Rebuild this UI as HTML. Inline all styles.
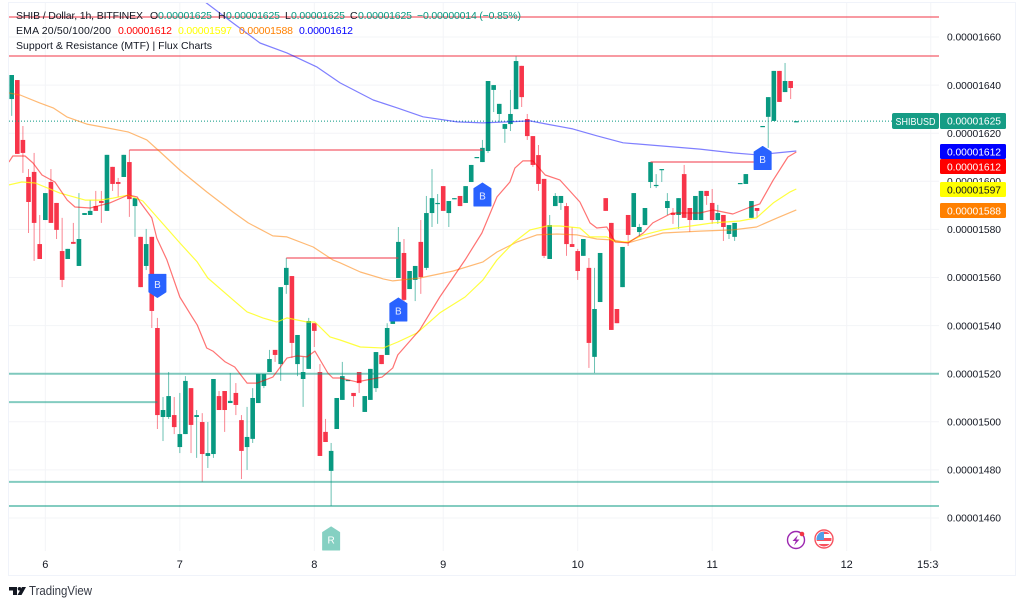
<!DOCTYPE html>
<html lang="en">
<head>
<meta charset="utf-8">
<title>SHIB / Dollar 1h chart</title>
<style>
html,body{margin:0;padding:0;background:#fff;width:1024px;height:607px;overflow:hidden}
svg{display:block}
text{font-family:"Liberation Sans",sans-serif}
</style>
</head>
<body>
<svg id="chart" width="1024" height="607" viewBox="0 0 1024 607" xmlns="http://www.w3.org/2000/svg">
  <defs>
    <clipPath id="plot-clip"><rect x="9" y="3" width="930" height="548"/></clipPath>
    <clipPath id="time-clip"><rect x="9" y="552" width="930" height="23"/></clipPath>
    <clipPath id="flag-clip"><circle cx="824" cy="539" r="7.5"/></clipPath>
  </defs>
  <rect x="0" y="0" width="1024" height="607" fill="#ffffff"/>
  <rect x="8.5" y="2.5" width="1007" height="573" fill="none" stroke="#f0f3fa"/>
  <g id="grid"></g>
  <g id="marks" clip-path="url(#plot-clip)">
    <g id="candles"></g>
    <g id="levels"></g>
    <g id="emas"></g>
    <g id="markers"></g>
  </g>
  <g id="price-axis"></g>
  <g id="time-axis" clip-path="url(#time-clip)"></g>
  <g id="tags"></g>

  <g font-size="10.5" fill="#131722">
    <text x="16" y="19" textLength="127">SHIB / Dollar, 1h, BITFINEX</text>
    <text x="150" y="19">O</text>
    <text x="158" y="19" textLength="54" fill="#089981">0.00001625</text>
    <text x="218" y="19">H</text>
    <text x="226" y="19" textLength="54" fill="#089981">0.00001625</text>
    <text x="285" y="19">L</text>
    <text x="291" y="19" textLength="54" fill="#089981">0.00001625</text>
    <text x="350" y="19">C</text>
    <text x="358" y="19" textLength="54" fill="#089981">0.00001625</text>
    <text x="417" y="19" textLength="104" fill="#089981">−0.00000014 (−0.85%)</text>
    <text x="16" y="34" textLength="95">EMA 20/50/100/200</text>
    <text x="118" y="34" textLength="54" fill="#ff0000">0.00001612</text>
    <text x="178" y="34" textLength="54" fill="#ffff00">0.00001597</text>
    <text x="239" y="34" textLength="54" fill="#ff8000">0.00001588</text>
    <text x="299" y="34" textLength="54" fill="#0000ff">0.00001612</text>
    <text x="16" y="49" textLength="196">Support &amp; Resistance (MTF) | Flux Charts</text>
  </g>

  <g>
    <circle cx="796" cy="540" r="8.5" fill="#ffffff" stroke="#9c27b0" stroke-width="1.4"/>
    <polygon points="798,535 792.5,541 795.8,541 794,545.5 799.5,539.5 796.2,539.5" fill="#9c27b0"/>
    <circle cx="802" cy="534" r="2.3" fill="#f23645"/>
  </g>
  <g>
    <circle cx="824" cy="539" r="9" fill="#ffffff" stroke="#f7525f" stroke-width="1.4"/>
    <g clip-path="url(#flag-clip)">
      <rect x="816" y="531" width="16" height="3" fill="#f7525f"/>
      <rect x="816" y="538" width="16" height="3" fill="#f7525f"/>
      <rect x="816" y="544" width="16" height="3" fill="#f7525f"/>
      <rect x="816" y="532" width="8" height="8" fill="#4f9fe8"/>
    </g>
  </g>

  <g>
    <polygon points="9,587 17,587 17,595 13,595 13,590.5 9,590.5" fill="#131722"/>
    <circle cx="19.5" cy="588.8" r="1.8" fill="#131722"/>
    <polygon points="22,587 26,587 21.5,595 17.5,595" fill="#131722"/>
    <text x="29" y="595" font-size="12.5" textLength="63" lengthAdjust="spacingAndGlyphs" fill="#363a45">TradingView</text>
  </g>
</svg>

<script>
// Candles (prices in units of 0.00000001)
const opens = [
1634.2,1642.1,1617.2,1601.8,1603.9,1573.9,1583.9,1599.7,1591,1571,
1567.7,1574.8,1564.8,1586,1586,1589.7,1591.8,1587.7,1606,1599.7,
1601.8,1608,1589.7,1576.9,1564.8,1576.9,1539,1502,1502,1502.8,
1489.5,1494.9,1514,1502,1499.9,1485.8,1486.6,1510.7,1512.8,1507.8,
1512,1500.7,1489.5,1492.9,1507.8,1514.9,1520.7,1529.9,1524,1556.9,
1560.6,1524,1517.8,1522,1541,1520.7,1495.8,1479.6,1497,1509.1,
1517,1512,1520.7,1504.1,1509.1,1514,1527.8,1527.8,1540.7,1559.8,
1570.2,1555.2,1559,1574.8,1564,1586.8,1590.6,1598,1586.8,1592.7,
1593.9,1591,1599.7,1609.7,1608,1612.6,1638,1628,1621.8,1623.8,
1630,1648,1625.9,1618.8,1610.9,1601,1567.7,1589.7,1591,1589.7,
1573.9,1571,1569,1564,1527,1549.8,1593,1582.7,1546.9,1556,
1586,1581,1578.9,1581.8,1599.7,1598,1604.7,1588.9,1586.8,1586,
1603,1588.9,1583.9,1583.9,1596,1591,1583.9,1586,1578.1,1576.9,
1598.9,1598.9,1584.8,1588.9,1622.6,1626.8,1625.1,1645.9,1637.1,1641.7,
1624.7];
const closes = [
1644.2,1611.4,1611.8,1591.4,1582.7,1567.7,1595.1,1582.7,1579.8,1559,
1571.9,1574,1576,1586.8,1587.7,1587.7,1591,1611,1598.9,1598.9,
1611,1592.6,1593,1556,1573.9,1546.1,1502.8,1504.9,1510.7,1497.8,
1494.9,1517,1498.7,1502.8,1486.6,1487,1517.8,1504.9,1504.9,1508.7,
1507,1487.9,1493.7,1509.9,1519.9,1519.9,1526.1,1527.8,1556,1564,
1532.8,1536.1,1520.7,1541.9,1537.8,1485.8,1491.6,1487.9,1509.9,1519,
1517.4,1510.7,1516.1,1510.7,1522,1529,1524,1539,1542.3,1574.8,
1550.7,1562.7,1564.8,1560.2,1586.8,1593,1591,1587.7,1591.8,1593,
1589.7,1598,1606.8,1610.1,1613.9,1641.7,1640,1632.2,1623.8,1628,
1650,1635,1618.8,1606.8,1598.9,1569,1581.8,1593.9,1593.9,1573.9,
1572.7,1562.7,1576,1532.8,1546.9,1570.2,1587.7,1538.2,1541,1572.7,
1577.7,1595.1,1581,1588.9,1608,1598.5,1605.1,1591.8,1586,1593,
1584.8,1583.9,1593.9,1596,1593.9,1583.9,1586.8,1581,1581.8,1582.7,
1599.3,1603,1591.8,1587.7,1623,1635,1645.9,1633,1641.7,1638.8,
1625];
const highs = [
1644.2,1642.1,1623,1605.1,1611.8,1586,1595.1,1605.1,1591,1584.8,
1571.9,1582.7,1595.1,1586.8,1592.2,1596,1596,1611,1606,1601.4,
1611,1613,1593,1576.9,1580.2,1576.9,1543.2,1510.3,1520.7,1510.3,
1512,1519,1514,1504.9,1503.6,1499.9,1517.8,1512.8,1512.8,1520.3,
1516.1,1502.8,1506.2,1514,1519.9,1519.9,1529.9,1529.9,1556,1568.1,
1560.6,1536.1,1527,1543.2,1541,1524,1501.2,1491.2,1509.9,1524.9,
1517.4,1512,1520.7,1510.7,1522,1529,1527.8,1541,1542.3,1581,
1576,1562.7,1564.8,1583.9,1593.9,1605.1,1594.7,1598,1591.8,1593,
1593.9,1598,1606.8,1610.1,1617.2,1641.7,1640,1632.2,1623.8,1638,
1652.1,1648,1628,1618.8,1615.1,1601,1586,1595.1,1593.9,1591,
1581,1571.9,1576,1568.1,1564,1570.2,1593,1582.7,1546.9,1572.7,
1586,1595.1,1582.3,1588.9,1608,1603,1605.1,1595.1,1588.9,1593,
1606.8,1588.9,1593.9,1596,1596,1596.8,1590.2,1586,1581.8,1582.7,
1599.3,1603,1591.8,1588.9,1623,1635,1645.9,1645.9,1649.2,1641.7,
1625];
const lows = [
1627.2,1611.4,1603.5,1578.5,1566.9,1567.7,1583.9,1582.7,1576,1556,
1567.7,1574,1564.8,1586,1586,1587.7,1582.7,1587.7,1596,1593.5,
1601.8,1585.2,1576.9,1556,1563.1,1539,1497,1492,1501.2,1494.9,
1487,1494.9,1487,1485,1475,1480.8,1485,1504.9,1495.8,1507.8,
1502.8,1476.2,1480,1491.2,1507.8,1514,1520.7,1524.9,1517,1553.2,
1526.5,1519,1506.2,1522,1531.1,1485.8,1491.6,1465,1497,1509.1,
1517,1506.2,1512,1504.1,1509.1,1512.4,1524,1527.8,1540.7,1559.8,
1548.6,1555.2,1550.2,1553.2,1563.1,1581,1582.3,1587.7,1581,1592.7,
1589.7,1591,1599.7,1609.7,1608,1611.8,1628.8,1624.7,1616,1620.9,
1630,1630.9,1617.2,1606,1596,1568.1,1567.7,1589.7,1588.1,1569,
1572.7,1559,1569,1522.4,1520.3,1549.8,1587.7,1538.2,1541,1556,
1573.1,1581,1576.9,1581.8,1597.2,1597.2,1599.7,1586,1582.3,1580.2,
1584.8,1578.9,1583.9,1583.9,1590.2,1582.3,1582.3,1575.2,1576,1575.2,
1598.9,1598.9,1584.8,1584.8,1622.6,1613.9,1625.1,1633,1637.1,1634.2,
1624.7];

// EMA series, sampled at bar numbers
const ema20Bars = [-0.5,0.2,2.4,3.8,5.4,7.7,9.9,11.3,14,17.5,20.8,22.4,22.9,25,25.9,27.7,30,32.2,33.1,34.8,35.9,38.1,39.8,42,43.8,46.6,49.1,50.9,52.7,54.1,56.4,57.3,58.6,61.6,66.1,68,68.9,72.8,76.4,80.9,83.9,86.6,88.9,89.8,91.2,93,95.2,97.8,101.4,103.2,104.4,106.2,107.7,110,112.7,114.4,117.8,120.5,122.8,125.1,128.7,131.8,133.5,135.9,138.5,140];
const ema20 = [1608,1610.5,1610.5,1607.6,1602.6,1599.7,1592.2,1589.3,1588.9,1591,1594.3,1593.5,1591.4,1584.8,1576.4,1567.3,1551.9,1543.6,1540.3,1530.7,1529.4,1524.9,1522.8,1516.1,1516.1,1518.6,1526.5,1527.4,1527,1529.4,1520.3,1518.2,1518.2,1516.6,1518.6,1522.4,1527.8,1538.2,1551.9,1567.3,1578.5,1593.5,1599.7,1605.5,1608.5,1608.5,1602.6,1600.6,1591.4,1582.7,1580.6,1581,1574.8,1574.4,1578.5,1582.7,1586.8,1586.8,1586.8,1588.1,1586.4,1589.3,1590.6,1600.6,1610.1,1612.2];
const ema50Bars = [-0.5,1.8,4.2,8.6,13.1,15.8,18.1,20.8,23.4,25.9,30,33.1,35,39.5,42,44.8,47.3,49.1,52.7,54.1,56.8,58.6,62.2,66.3,68.9,72.3,76.4,80.9,84.1,86.6,89.5,92.5,95.5,97.8,101.4,103.2,106.2,107.7,110,112.7,116.2,122.3,125.1,129.9,132.9,135.9,138.9,140];
const ema50 = [1598.5,1599.7,1599.3,1595.1,1592.2,1592.2,1593,1594.3,1591.8,1585.2,1574.4,1566.5,1559.8,1550.7,1545.7,1543.2,1541.5,1543.2,1541.5,1541.5,1535.3,1534,1531.1,1530.7,1533.2,1536.9,1545.3,1551.9,1559,1567.3,1574.4,1579.8,1581.4,1581.4,1580.6,1576.9,1576.9,1574.8,1574.8,1577.7,1579.8,1581.8,1582.7,1583.5,1584.8,1591,1595.6,1596.8];
const ema100Bars = [-0.5,1.5,5,7.4,9.9,13.4,17,20.8,24.1,26.5,30,34.8,39.5,42.2,46.6,49.1,53.8,57.3,58.6,62.2,66.3,68,72.8,78.8,84.1,86.6,90.2,93.7,97.3,100.9,104.4,107.3,110,116.2,122.8,128.7,132.9,136.6,140];
const ema100 = [1636.7,1635.9,1632.6,1630.5,1626.7,1623.8,1622.2,1620.5,1617.2,1612.2,1604.7,1595.6,1587.2,1582.7,1577.3,1576.9,1572.7,1567.3,1566.1,1562.3,1559.4,1558.6,1559.8,1562.7,1566.5,1570.6,1574.8,1577.7,1578.1,1577.7,1576,1575.6,1574.4,1578.5,1579.3,1579.8,1581,1584.8,1588.1];
const ema200Bars = [34.5,39.5,44.3,49.1,54.5,58.6,64.5,68.8,73.4,79.5,84.1,88.4,92.5,95.5,100.1,104.4,109.1,113.9,122.8,128.7,132.9,136.6,140];
const ema200 = [1674.6,1665.8,1657.5,1653.4,1647.5,1640.9,1633.8,1630.5,1626.8,1624.7,1624.3,1624.7,1625.1,1623.8,1621.8,1618.9,1616,1615.1,1613.4,1611.8,1611,1611.8,1612.6];

// Support / resistance levels
const resistancePrices = [1668.3,1652.1,1613,1568.1,1608];
const resistanceStartBars = [-2,-2,21,49,114];
const resistanceEndBars = [170,170,84,69,134];
const supportPrices = [1520,1508.2,1475,1465];
const supportStartBars = [-2,-2,-2,-2];
const supportEndBars = [170,26,170,170];

// Axis labels
const priceTicks = [1660,1640,1620,1600,1580,1560,1540,1520,1500,1480,1460];
const timeTickBars = [6,30,54,77,101,125,149,164];
const timeTickLabels = ['6','7','8','9','10','11','12','15:30'];
const lastPrice = 1625;

// Signal markers
const buyBars = [26,69,84,134];
const buyPrices = [1556.5,1546.7,1594.5,1609.7];
const buyDirections = [-1,1,1,1];
const retestBars = [57];
const retestPrices = [1451.5];

const NS = 'http://www.w3.org/2000/svg';
const xOf = bar => 11.7 + 5.604 * bar;
const yOf = price => 37 + (1660 - price) * 2.405;
const fmt = price => '0.0000' + String(Math.round(price));

function make(tag, parent, attrs) {
  const el = document.createElementNS(NS, tag);
  for (const k in attrs) el.setAttribute(k, attrs[k]);
  parent.appendChild(el);
  return el;
}

// Grid + axis labels
const grid = document.getElementById('grid');
const priceAxis = document.getElementById('price-axis');
priceTicks.forEach(p => {
  const line = make('line', grid, {x1: 9, x2: 939, y1: yOf(p), y2: yOf(p), stroke: '#f3f4f7', 'stroke-width': 1});
  
  
  const label = make('text', priceAxis, {x: 947, y: yOf(p) + 3.7, 'font-size': 10.3, fill: '#131722', textLength: 54});
  
  
  label.textContent = fmt(p);
});
const timeAxis = document.getElementById('time-axis');
timeTickBars.forEach((b, i) => {
  const line = make('line', grid, {x1: xOf(b), x2: xOf(b), y1: 3, y2: 551, stroke: '#f3f4f7', 'stroke-width': 1});
  
  
  const label = make('text', timeAxis, {x: xOf(b), y: 568, 'font-size': 11, fill: '#131722', 'text-anchor': 'middle'});
  
  
  label.textContent = timeTickLabels[i];
});

// Candles
const candleGroup = document.getElementById('candles');
opens.forEach((o, i) => {
  const c = closes[i];
  const up = c >= o;
  const color = up ? '#089981' : '#f7354a';
  const g = make('g', candleGroup, {});
  
  
  const x = xOf(i);
  make('line', g, {x1: x, x2: x, y1: yOf(highs[i]), y2: yOf(lows[i]), stroke: color, 'stroke-width': 1, 'stroke-opacity': 0.6});
  const top = yOf(Math.max(o, c));
  const bottom = yOf(Math.min(o, c));
  make('rect', g, {x: x - 2.3, y: top, width: 4.6, height: Math.max(bottom - top, 1.2), fill: color});
});

// Levels
const levelGroup = document.getElementById('levels');
resistancePrices.forEach((p, i) => {
  const line = make('line', levelGroup, {x1: xOf(resistanceStartBars[i]), x2: xOf(resistanceEndBars[i]), y1: yOf(p), y2: yOf(p), stroke: '#f23645', 'stroke-opacity': 0.5, 'stroke-width': 2});
  
  
});
supportPrices.forEach((p, i) => {
  const line = make('line', levelGroup, {x1: xOf(supportStartBars[i]), x2: xOf(supportEndBars[i]), y1: yOf(p), y2: yOf(p), stroke: '#089981', 'stroke-opacity': 0.5, 'stroke-width': 2});
  
  
});
const lastLine = make('line', levelGroup, {x1: 9, x2: 892, y1: yOf(lastPrice), y2: yOf(lastPrice), stroke: '#089981', 'stroke-width': 1, 'stroke-dasharray': '1 2'});



// EMA lines
function drawEma(bars, values, color, opacity, name) {
  const d = values.map((v, i) => (i ? 'L' : 'M') + xOf(bars[i]).toFixed(1) + ' ' + yOf(v).toFixed(1)).join('');
  const path = make('path', document.getElementById('emas'), {d: d, fill: 'none', stroke: color, 'stroke-opacity': opacity, 'stroke-width': 1.2, 'stroke-linejoin': 'round'});
  
  
}
drawEma(ema200Bars, ema200, '#0000ff', 0.5, 'ema-200-line');
drawEma(ema100Bars, ema100, '#ff8000', 0.55, 'ema-100-line');
drawEma(ema50Bars, ema50, '#ffff00', 0.75, 'ema-50-line');
drawEma(ema20Bars, ema20, '#ff0000', 0.55, 'ema-20-line');

// Markers
const markerGroup = document.getElementById('markers');
function drawMarker(bar, price, dir, color, textColor, letter, name) {
  const x = xOf(bar);
  const y = yOf(price);
  const g = make('g', markerGroup, {});
  
  
  const pts = [[x - 8.5, y + dir * 11.5], [x - 8.5, y - dir * 6], [x, y - dir * 11.5], [x + 8.5, y - dir * 6], [x + 8.5, y + dir * 11.5]];
  make('polygon', g, {points: pts.map(p => p.join(',')).join(' '), fill: color, stroke: color, 'stroke-width': 1, 'stroke-linejoin': 'round'});
  const t = make('text', g, {x: x, y: y + 3.5 + dir * 1.5, 'font-size': 10, fill: textColor, 'text-anchor': 'middle'});
  t.textContent = letter;
}
buyBars.forEach((b, i) => {
  drawMarker(b, buyPrices[i], buyDirections[i], '#2962ff', '#e6ecff', 'B', 'buy-signal-marker');
});
retestBars.forEach((b, i) => {
  drawMarker(b, retestPrices[i], 1, '#85d0c2', '#ffffff', 'R', 'retest-signal-marker');
});

// Price tags
const tagLabels = ['0.00001625','0.00001612','0.00001612','0.00001597','0.00001588'];
const tagColors = ['#169c85','#0000ff','#ff0000','#ffff00','#ff8000'];
const tagTextColors = ['#ffffff','#ffffff','#ffffff','#131722','#ffffff'];
const tagTops = [113,144,159,182,203];
const tags = document.getElementById('tags');
const symbolTag = make('rect', tags, {x: 892, y: 113, width: 47, height: 16, rx: 2, fill: '#169c85'});


const symbolText = make('text', tags, {x: 895.5, y: 125, 'font-size': 10.3, fill: '#ffffff', textLength: 40, lengthAdjust: 'spacingAndGlyphs'});


symbolText.textContent = 'SHIBUSD';
tagLabels.forEach((label, i) => {
  const r = make('rect', tags, {x: 940, y: tagTops[i], width: 66, height: i === 0 ? 16 : 15, rx: 1.5, fill: tagColors[i]});
  
  
  const t = make('text', tags, {x: 947, y: tagTops[i] + 11.5, 'font-size': 10.3, fill: tagTextColors[i], textLength: 54});
  
  
  t.textContent = label;
});
</script>
</body>
</html>
